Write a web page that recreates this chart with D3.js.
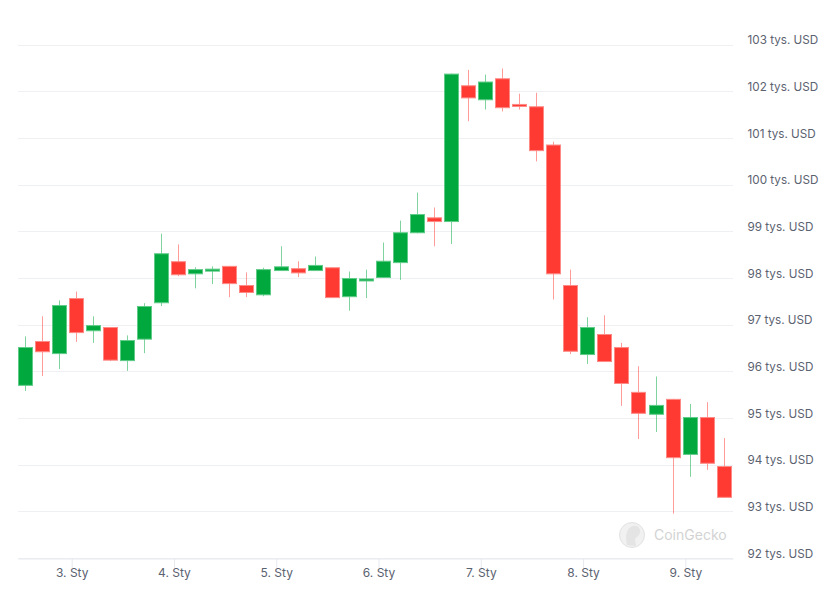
<!DOCTYPE html>
<html>
<head>
<meta charset="utf-8">
<script src="https://cdn.jsdelivr.net/npm/d3@7"></script>
<style>
  html, body { margin: 0; padding: 0; background: #fff; }
  svg { display: block; font-family: Inter, "Noto Sans", sans-serif; }
</style>
</head>
<body>
<svg id="chart" width="830" height="590"></svg>
<script>
// 4-hour candles, first candle at 2 Jan 13:00 (UTC)
const startTime = Date.UTC(2025, 0, 2, 13, 0);
const stepHours = 4;
const opens  = [95.70, 96.64, 96.38, 97.56, 96.87, 96.94, 96.23, 96.69, 97.47, 98.35,
                98.09, 98.17, 98.25, 97.84, 97.64, 98.16, 98.20, 98.16, 98.22, 97.60,
                97.96, 98.01, 98.33, 98.97, 99.29, 99.21, 102.12, 101.82, 102.27, 101.72,
                101.67, 100.85, 97.84, 96.36, 96.79, 96.51, 95.55, 95.08, 95.40, 94.22,
                95.01, 93.96];
const highs  = [96.75, 97.18, 97.52, 97.71, 97.18, 96.95, 96.77, 97.46, 98.95, 98.72,
                98.23, 98.25, 98.26, 98.12, 98.22, 98.68, 98.36, 98.46, 98.23, 98.14,
                98.18, 98.76, 99.23, 99.83, 99.51, 102.38, 102.46, 102.36, 102.49, 101.95,
                101.97, 100.92, 98.18, 97.16, 97.20, 96.61, 96.11, 95.89, 95.41, 95.30,
                95.34, 94.57];
const lows   = [95.58, 95.90, 96.05, 96.63, 96.61, 96.22, 96.01, 96.39, 97.40, 98.04,
                97.78, 97.87, 97.59, 97.59, 97.61, 98.15, 98.02, 98.15, 97.57, 97.30,
                97.57, 98.00, 97.96, 98.96, 98.68, 98.73, 101.36, 101.61, 101.57, 101.61,
                100.50, 97.54, 96.37, 96.16, 96.20, 95.26, 94.55, 94.70, 92.95, 93.74,
                93.89, 93.29];
const closes = [96.51, 96.42, 97.41, 96.83, 96.98, 96.24, 96.66, 97.39, 98.52, 98.07,
                98.18, 98.19, 97.88, 97.69, 98.18, 98.24, 98.11, 98.27, 97.58, 97.99,
                97.98, 98.36, 98.97, 99.36, 99.21, 102.37, 101.86, 102.20, 101.65, 101.70,
                100.73, 98.09, 96.43, 96.94, 96.21, 95.74, 95.10, 95.27, 94.15, 95.01,
                94.03, 93.30];
const yTicks = [92, 93, 94, 95, 96, 97, 98, 99, 100, 101, 102, 103];
const yTickLabels = yTicks.map(v => v + " tys. USD");
const xTickDays = [3, 4, 5, 6, 7, 8, 9];
const xTickLabels = ["3. Sty", "4. Sty", "5. Sty", "6. Sty", "7. Sty", "8. Sty", "9. Sty"];

const candles = opens.map((o, i) => ({
  t: new Date(startTime + i * stepHours * 3600 * 1000),
  o, h: highs[i], l: lows[i], c: closes[i]
}));

const GREEN = "#00a83e", RED = "#ff3a33";
const plotLeft = 18, plotRight = 733, plotTop = 44.7, plotBottom = 558;

const x = d3.scaleTime()
  .domain([new Date(Date.UTC(2025, 0, 2, 11, 24)), new Date(Date.UTC(2025, 0, 9, 11, 11))])
  .range([plotLeft, plotRight]);
const y = d3.scaleLinear().domain([92, 103]).range([plotBottom, plotTop]);

const svg = d3.select("#chart");

// grid lines
svg.append("g").selectAll("line").data(yTicks).join("line")
  .attr("x1", plotLeft).attr("x2", plotRight)
  .attr("y1", d => Math.round(y(d)) + 0.5).attr("y2", d => Math.round(y(d)) + 0.5)
  .attr("stroke", "#eef0f3").attr("stroke-width", 1);

// y labels (right)
const yAxis = d3.axisRight(y).tickValues(yTicks)
  .tickFormat((d, i) => yTickLabels[i]).tickSize(0).tickPadding(0);
const gy = svg.append("g").attr("transform", `translate(${747.5},0)`).call(yAxis);
gy.select(".domain").remove();
gy.selectAll("text")
  .attr("dy", null).attr("y", -1)
  .attr("dominant-baseline", "alphabetic")
  .attr("fill", "#5b6270").attr("font-size", 11.7)
  .attr("font-family", "Inter, 'Noto Sans', sans-serif");

// x axis
const xTickDates = xTickDays.map(d => new Date(Date.UTC(2025, 0, d)));
const xAxis = d3.axisBottom(x).tickValues(xTickDates)
  .tickFormat((d, i) => xTickLabels[i]).tickSize(12).tickSizeOuter(0).tickPadding(0);
const gx = svg.append("g").attr("transform", `translate(0,${plotBottom + 0.5})`).call(xAxis);
gx.select(".domain").attr("stroke", "#e6e9ee");
gx.selectAll(".tick line").attr("stroke", "#e6e9ee");
gx.selectAll("text")
  .attr("dy", null).attr("y", 18.5)
  .attr("fill", "#5b6270").attr("font-size", 12)
  .attr("font-family", "Inter, 'Noto Sans', sans-serif");

// watermark
const wm = svg.append("g");
wm.append("circle").attr("cx", 632).attr("cy", 535).attr("r", 12.5)
  .attr("fill", "#f1f1f1").attr("stroke", "#e2e2e2").attr("stroke-width", 1);
wm.append("path")
  .attr("d", "M627,545 C625,536 626,528 633,526 C638,525 641,529 640,533 C639,536 636,537 635,539 L636,546 Z")
  .attr("fill", "#e4e4e4");
wm.append("text").attr("x", 654).attr("y", 540)
  .attr("font-size", 14).attr("fill", "#d3d3d3")
  .attr("font-family", "Inter, 'Noto Sans', sans-serif")
  .text("CoinGecko");

// candles
const bw = 14;
const g = svg.append("g");
const cg = g.selectAll("g.c").data(candles).join("g").attr("class", "c");
cg.append("line")
  .attr("x1", d => Math.round(x(d.t)) + 0.5).attr("x2", d => Math.round(x(d.t)) + 0.5)
  .attr("y1", d => y(d.h)).attr("y2", d => y(d.l))
  .attr("stroke", d => d.c >= d.o ? GREEN : RED)
  .attr("stroke-opacity", 0.5).attr("stroke-width", 1);
cg.append("rect")
  .attr("x", d => Math.round(x(d.t)) - bw / 2 + 0.5)
  .attr("width", bw)
  .attr("y", d => y(Math.max(d.o, d.c)))
  .attr("height", d => Math.max(2, Math.abs(y(d.o) - y(d.c))))
  .attr("fill", d => d.c >= d.o ? GREEN : RED)
  .attr("stroke", d => d.c >= d.o ? "#5fcb87" : "#ff8a85")
  .attr("stroke-width", 1);
</script>
</body>
</html>
